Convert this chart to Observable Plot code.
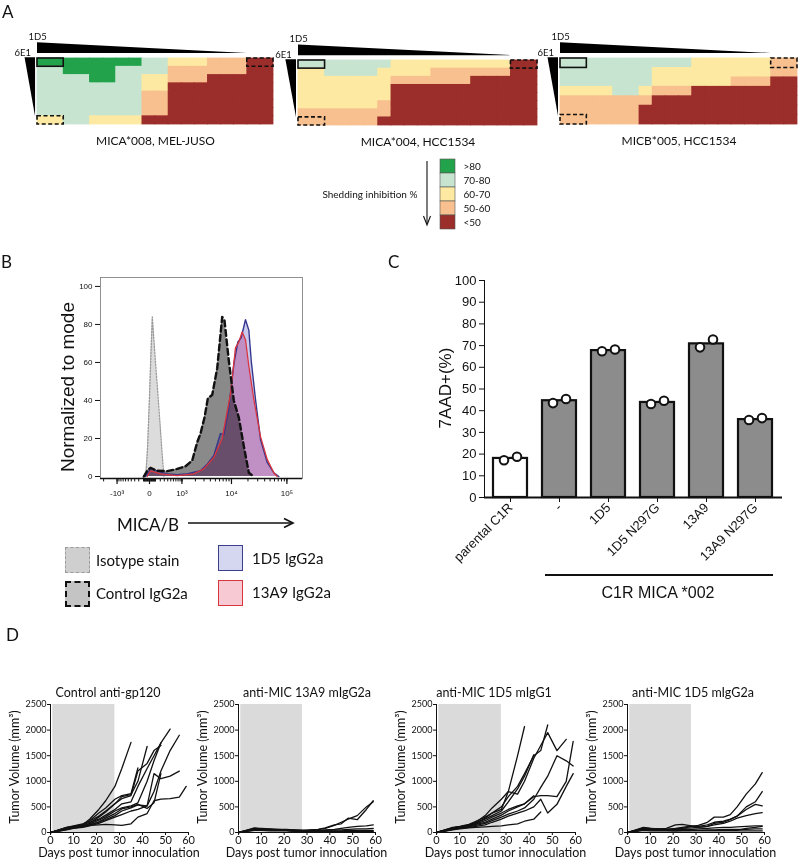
<!DOCTYPE html>
<html><head><meta charset="utf-8">
<script src="https://cdn.jsdelivr.net/npm/d3@7"></script>
<script src="https://cdn.jsdelivr.net/npm/@observablehq/plot@0.6"></script>
<style>
body{margin:0;background:#fff;}
#root{position:relative;width:800px;height:862px;overflow:hidden;color:#111;background:#fff;}
.abs{position:absolute;}
.lbl{position:absolute;white-space:nowrap;line-height:1;}
.sq{position:absolute;box-sizing:border-box;}
</style></head><body><div id="root"></div>
<script>
// ---------------- DATA ----------------
// Panel A: shedding inhibition heatmaps (rows = 6E1 dose, columns = 1D5 dose)
const shedCats = [">80", "70-80", "60-70", "50-60", "<50"];
const shedColors = ["#22a34b", "#c7e4d0", "#fde9a1", "#f8c08f", "#9b2d2a"];
const codeToCat = {G: ">80", L: "70-80", Y: "60-70", P: "50-60", R: "<50"};
const heat1Rows = [
  "GGGGGGGGLLYYYPPPRR",
  "LLGGGGLLLLPPPPPPRR",
  "LLLLGGLLYYPPPRRRRR",
  "LLLLLLLLYYRRRRRRRR",
  "LLLLLLLLPPRRRRRRRR",
  "LLLLLLLLPPRRRRRRRR",
  "LLLLLLLLPPRRRRRRRR",
  "YYLLYYYYRRRRRRRRRR"];
const heat2Rows = [
  "LLLLLLLYYYYYYYYYRR",
  "YYLLLLYYYYPPPPPPRR",
  "YYYYYYYPPPPPPRRRRR",
  "YYYYYYYRRRRRRRRRRR",
  "YYYYYYYRRRRRRRRRRR",
  "YYYYYYPRRRRRRRRRRR",
  "PPPPPPPRRRRRRRRRRR",
  "PPPPPPRRRRRRRRRRRR"];
const heat3Rows = [
  "LLLLLLLLLLYYYYYYPP",
  "LLLLLLLYYYYYYYYYPP",
  "LLLLLLLYYYYYYPPPRR",
  "YYYYLLYPPPRRRRRRRR",
  "PPPPPPPRRRRRRRRRRR",
  "PPPPPPRRRRRRRRRRRR",
  "PPPPPPRRRRRRRRRRRR"];
const heatTitles = ["MICA*008, MEL-JUSO", "MICA*004, HCC1534", "MICB*005, HCC1534"];

// Panel B: flow histograms (MFI, % of mode)
const isoMFI = [-60, -30, 0, 20, 44, 70, 100, 140, 190, 240, 290];
const isoCount = [0, 15, 42, 63, 84, 72, 60, 46, 29, 13, 0];
const ctrlMFI = [-95, -36, 15, 134, 383, 760, 1214, 1712, 2183, 2551, 3069, 3565, 4345, 5414, 6725, 7426, 8924, 11040, 13630, 16810, 20720, 25520];
const ctrlCount = [0, 3, 4.6, 3, 2.8, 4, 5.4, 8.4, 18, 22.6, 31, 41, 43, 57, 84, 82, 61, 40, 31, 16, 2, 0];
const d15MFI = [-64, 15, 134, 383, 760, 1321, 2551, 3472, 4659, 6249, 7204, 8924, 11040, 13070, 15070, 18040, 20720, 22890, 27360, 33670, 44430, 58320, 71710];
const d15Count = [0, 4, 2.8, 1.4, 1, 1.4, 3, 6.5, 11, 22.6, 22, 36, 59, 70.7, 73, 82.5, 77, 61, 40.6, 19.5, 7.4, 2, 0];
const a13MFI = [-36, 15, 205, 760, 1853, 2971, 4659, 6725, 9598, 11860, 13630, 15720, 18040, 20720, 25520, 33670, 44430, 58320, 67130];
const a13Count = [0, 3, 1.4, 0.5, 1.4, 4, 10, 20, 43.5, 67.7, 70.7, 76, 72, 58, 40.6, 21, 9, 2, 0];
const histTicks = [-1000, 0, 1000, 10000, 100000];
const histTickLabels = ["-10³", "0", "10³", "10⁴", "10⁵"];
const countTicks = [0, 20, 40, 60, 80, 100];
const histLegend = ["Isotype stain", "Control IgG2a", "1D5 IgG2a", "13A9 IgG2a"];

// Panel C: 7AAD+ (%)
const c1rGroups = ["parental C1R", "-", "1D5", "1D5 N297G", "13A9", "13A9 N297G"];
const barMeans = [18, 44.6, 67.7, 43.8, 70.8, 35.9];
const rep1 = [17.2, 43.5, 67.4, 43.1, 69.2, 35.7];
const rep2 = [18.8, 45.4, 68.2, 44.6, 72.8, 36.6];
const pctTicks = [0, 10, 20, 30, 40, 50, 60, 70, 80, 90, 100];

// Panel D: tumour growth (mm3) per mouse, on measurement days
const tumorDays = [0, 7, 10, 14, 17, 21, 24, 28, 31, 35, 38, 42, 45, 48, 52, 56, 59];
const dayTicks = [0, 10, 20, 30, 40, 50, 60];
const volTicks = [0, 500, 1000, 1500, 2000, 2500];
const treatWindow = [1, 28];
const growthTitles = ["Control anti-gp120", "anti-MIC 13A9 mIgG2a", "anti-MIC 1D5 mIgG1", "anti-MIC 1D5 mIgG2a"];
const controlMice = [
  [0, 80, 100, 150, 260, 450, 620, 900, 1250, 1760],
  [0, 90, 110, 160, 230, 380, 480, 650, 720, 760, 1260],
  [0, 70, 100, 130, 180, 300, 400, 560, 700, 740, 1000, 1680],
  [0, 100, 120, 150, 200, 260, 340, 450, 560, 600, 900, 1250, 1500, 1750, 2020],
  [0, 80, 110, 140, 170, 240, 310, 420, 480, 520, 580, 1000, 1400, 1750],
  [0, 60, 90, 110, 150, 200, 250, 330, 420, 480, 540, 520, 1150, 1050, 1100, 1200],
  [0, 60, 100, 120, 140, 150, 160, 150, 140, 170, 300, 370, 620, 650, 660, 690, 900],
  [0, 100, 130, 170, 220, 320, 420, 560, 660, 720, 1200, 1350, 1600, 1700],
  [0, 50, 80, 100, 130, 180, 230, 300, 350, 420, 450, 520, 800, 1200, 1600, 1900],
  [0, 70, 90, 110, 150, 210, 280, 370, 460, 500, 550, 470, 580, 1150]];
const mic13A9Mice = [
  [0, 80, 80, 70, 60, 60, 50, 40, 50, 60, 90, 150, 170, 280, 250, 450, 620],
  [0, 60, 50, 60, 50, 40, 40, 30, 40, 60, 80, 140, 200, 260, 330, 500, 600],
  [0, 90, 70, 60, 60, 50, 50, 40, 40, 40, 50, 60, 80, 100, 120, 130, 150],
  [0, 50, 60, 50, 50, 40, 40, 40, 30, 40, 40, 50, 50, 60, 70, 70, 80],
  [0, 70, 60, 50, 40, 40, 30, 30, 30, 30, 30, 30, 30, 40, 40, 40, 40],
  [0, 40, 40, 30, 30, 30, 20, 20, 20, 20, 20, 20, 20, 20, 20, 20, 20],
  [0, 60, 50, 50, 40, 40, 30, 30, 20, 20, 20, 20, 10, 10, 10, 10, 10]];
const mic1D5G1Mice = [
  [0, 90, 110, 150, 200, 330, 480, 650, 800, 1500, 2070],
  [0, 80, 100, 140, 180, 280, 380, 500, 700, 900, 1150, 1500, 1600, 2100],
  [0, 100, 120, 160, 220, 300, 380, 450, 800, 750, 1000, 1450, 1700, 1950, 1600, 1820],
  [0, 90, 110, 140, 190, 260, 330, 420, 600, 850, 1100, 1520],
  [0, 70, 100, 130, 170, 230, 300, 380, 450, 520, 560, 720],
  [0, 80, 100, 120, 160, 200, 260, 340, 420, 500, 560, 700, 720, 720, 700, 1000, 1780],
  [0, 60, 90, 110, 140, 180, 230, 300, 360, 420, 480, 650, 880, 1100, 1500, 1400, 1300],
  [0, 60, 80, 100, 120, 150, 200, 260, 320, 380, 420, 500, 650, 380, 550, 900, 1150],
  [0, 50, 70, 90, 100, 110, 120, 130, 150, 170, 220, 260, 400]];
const mic1D5G2aMice = [
  [0, 80, 70, 60, 50, 60, 80, 120, 140, 200, 300, 300, 350, 500, 750, 950, 1170],
  [0, 60, 60, 50, 60, 80, 100, 130, 100, 120, 180, 200, 250, 320, 500, 600, 800],
  [0, 90, 80, 70, 80, 150, 160, 130, 120, 150, 200, 220, 260, 320, 450, 550, 520],
  [0, 70, 60, 60, 60, 70, 80, 90, 100, 120, 150, 180, 220, 280, 330, 370, 390],
  [0, 50, 50, 50, 40, 50, 60, 60, 70, 80, 90, 100, 100, 110, 120, 130, 130],
  [0, 100, 80, 70, 60, 50, 50, 50, 40, 50, 50, 60, 60, 60, 60, 70, 70],
  [0, 60, 50, 40, 40, 30, 40, 40, 40, 40, 40, 40, 40, 40, 80, 100, 120],
  [0, 40, 30, 30, 30, 30, 30, 30, 30, 30, 30, 30, 30, 30, 30, 30, 30]];

// ---------------- HELPERS ----------------
const SANS = "Lato, 'Liberation Sans', sans-serif";
const HELV = "'Liberation Sans', Arial, sans-serif";
const root = document.getElementById("root");
function place(node, left, top) {
  const w = document.createElement("div");
  w.className = "abs"; w.style.left = left + "px"; w.style.top = top + "px";
  w.appendChild(node); root.appendChild(w); return w;
}
function label(s, x, y, o = {}) {
  const d = document.createElement("div");
  d.className = "lbl"; d.textContent = s;
  d.style.left = x + "px"; d.style.top = y + "px";
  d.style.fontSize = (o.size || 12) + "px";
  d.style.fontFamily = o.family || SANS;
  const a = o.anchor || "middle";
  const tx = a === "middle" ? "-50%" : a === "end" ? "-100%" : "0";
  d.style.transform = `translate(${tx},-50%)` + (o.rotate ? ` rotate(${o.rotate}deg)` : "");
  root.appendChild(d); return d;
}
function square(x, y, w, h, fill, border) {
  const d = document.createElement("div");
  d.className = "sq";
  Object.assign(d.style, {left: x + "px", top: y + "px", width: w + "px", height: h + "px", background: fill, border});
  root.appendChild(d);
}
const baseStyle = (fam, size) => ({background: "transparent", overflow: "visible", maxWidth: "none", fontFamily: fam, fontSize: size + "px", color: "#111"});

// ---------------- PANEL A ----------------
function heatmap(rows, title, x0, x1, y0, y1) {
  const n = rows.length, m = rows[0].length;
  const cells = [];
  rows.forEach((s, r) => [...s].forEach((c, j) => cells.push({j, r, cat: codeToCat[c]})));
  const top = 20, H = 135, ML = 40, MR = 4;
  const W = (x1 - x0) + ML + MR;
  const svg = Plot.plot({
    width: W, height: H, marginLeft: ML, marginRight: MR, marginTop: y0 - top, marginBottom: H - (y1 - top),
    style: baseStyle(SANS, 10),
    x: {domain: [0, m], axis: null},
    y: {domain: [0, 1], reverse: true, axis: null},
    color: {domain: shedCats, range: shedColors},
    marks: [
      Plot.rect(cells, {x1: d => d.j, x2: d => d.j + 1, y1: d => d.r / n, y2: d => (d.r + 1) / n, fill: "cat",
        insetLeft: -0.4, insetRight: -0.4, insetTop: -0.4, insetBottom: -0.4}),
      Plot.rect([{a: 0, b: 2, c: 0, d: 1 / n}], {x1: "a", x2: "b", y1: "c", y2: "d", fill: "none", stroke: "#111", strokeWidth: 1.6}),
      Plot.rect([{a: m - 2, b: m, c: 0, d: 1 / n}, {a: 0, b: 2, c: (n - 1) / n, d: 1}], {x1: "a", x2: "b", y1: "c", y2: "d", fill: "none", stroke: "#111", strokeWidth: 1.6, strokeDasharray: "4,2.5"}),
      Plot.areaY([{x: 0, lo: -0.075, hi: -0.24}, {x: 16, lo: -0.075, hi: -0.075}], {x: "x", y1: "lo", y2: "hi", fill: "black"}),
      Plot.areaX([{y: -0.01, a: -0.95, b: -0.15}, {y: 0.88, a: -0.15, b: -0.15}], {y: "y", x1: "a", x2: "b", fill: "black"}),
      Plot.text(["1D5"], {x: -0.68, y: -0.33, textAnchor: "start", fontSize: 9.5}),
      Plot.text(["6E1"], {x: -0.5, y: -0.085, textAnchor: "end", fontSize: 9.5}),
      Plot.text([title], {x: m / 2, y: 1, dy: 17, fontSize: 12})
    ]
  });
  place(svg, x0 - ML, top);
}
heatmap(heat1Rows, heatTitles[0], 37, 273, 58, 124);
heatmap(heat2Rows, heatTitles[1], 298, 537, 60, 125);
heatmap(heat3Rows, heatTitles[2], 560, 797, 58, 124);

const legendA = Plot.plot({
  width: 180, height: 90, marginLeft: 120, marginRight: 45, marginTop: 9, marginBottom: 11,
  style: baseStyle(SANS, 10),
  x: {axis: null}, y: {domain: shedCats, axis: null, padding: 0},
  color: {domain: shedCats, range: shedColors},
  marks: [
    Plot.cell(shedCats, {y: d => d, fill: d => d, stroke: "#555", strokeWidth: 0.6, inset: 0}),
    Plot.text(shedCats, {y: d => d, text: d => d, frameAnchor: "right", dx: 8, textAnchor: "start", fontSize: 10}),
    Plot.text(["Shedding inhibition %"], {frameAnchor: "left", dx: -23, textAnchor: "end", fontSize: 10})
  ]
});
place(legendA, 320, 150);

// ---------------- PANEL B ----------------
const toRows = (xs, ys) => xs.map((x, i) => ({x, y: ys[i]}));
const iso = toRows(isoMFI, isoCount), ctrl = toRows(ctrlMFI, ctrlCount);
const d15 = toRows(d15MFI, d15Count), a13 = toRows(a13MFI, a13Count);
const minorTicks = [];
for (const dec of [10, 100]) for (let k = 1; k < 10; k++) minorTicks.push(-k * dec);
for (const dec of [10, 100, 1000, 10000]) for (let k = 1; k < 10; k++) minorTicks.push(k * dec);
minorTicks.push(-2000, -1000, 0, 1000, 10000, 100000);
const yMinB = -1.05;
const histo = Plot.plot({
  width: 280, height: 250, marginLeft: 60, marginRight: 18, marginTop: 12, marginBottom: 37,
  style: baseStyle(HELV, 8),
  x: {type: "symlog", constant: 360, domain: [-2322, 189900], ticks: histTicks,
      tickFormat: d => histTickLabels[histTicks.indexOf(d)], tickSize: 0, tickPadding: 12, label: null},
  y: {domain: [yMinB, 104.7], ticks: countTicks, tickSize: 5, tickPadding: 3, label: null},
  marks: [
    Plot.frame({stroke: "#777", strokeWidth: 0.8}),
    Plot.areaY(iso, {x: "x", y: "y", fill: "#dcdcdc"}),
    Plot.line(iso, {x: "x", y: "y", stroke: "#9a9a9a", strokeWidth: 1.3, strokeDasharray: "1.5,1.5"}),
    Plot.areaY(ctrl, {x: "x", y: "y", fill: "#8a8a8a"}),
    Plot.areaY(d15, {x: "x", y: "y", fill: "#c9c9ee", mixBlendMode: "multiply"}),
    Plot.areaY(a13, {x: "x", y: "y", fill: "#f4b6d2", mixBlendMode: "multiply"}),
    Plot.line(d15, {x: "x", y: "y", stroke: "#34378c", strokeWidth: 1.4}),
    Plot.line(a13, {x: "x", y: "y", stroke: "#d8343f", strokeWidth: 1.3}),
    Plot.line(ctrl, {x: "x", y: "y", stroke: "#111", strokeWidth: 2.4, strokeDasharray: "6,3.5"}),
    Plot.ruleY([yMinB], {stroke: "#111", strokeWidth: 1.5}),
    Plot.ruleX(minorTicks, {y1: yMinB, y2: yMinB - 1.8, stroke: "#111", strokeWidth: 1}),
    Plot.ruleX(histTicks, {y1: yMinB, y2: yMinB - 3.2, stroke: "#111", strokeWidth: 1.2})
  ]
});
place(histo, 40, 265);
label("Normalized to mode", 67, 387, {size: 19, family: HELV, rotate: -90});
label("MICA/B", 117, 524, {size: 17, anchor: "start"});
square(65, 547, 25, 26, "#cfcfcf", "1.5px dashed #9a9a9a");
square(65, 581, 25, 26, "#c4c4c4", "2px dashed #111");
square(218, 545, 25, 26, "#d5d6ef", "1.5px solid #3b3f8c");
square(218, 580, 25, 26, "#f7cad3", "1.5px solid #d8343c");
label(histLegend[0], 96, 560, {size: 15, anchor: "start"});
label(histLegend[1], 96, 593, {size: 15, anchor: "start"});
label(histLegend[2], 252, 558, {size: 15, anchor: "start"});
label(histLegend[3], 252, 592, {size: 15, anchor: "start"});

// ---------------- PANEL C ----------------
const c1rTable = c1rGroups.map((g, i) => ({g, mean: barMeans[i], r1: rep1[i], r2: rep2[i], parental: i === 0}));
const barC = Plot.plot({
  width: 410, height: 310, marginLeft: 104, marginRight: 8, marginTop: 10, marginBottom: 83,
  style: baseStyle(HELV, 13),
  x: {domain: c1rGroups, paddingInner: 0.3, paddingOuter: 0.15, tickRotate: -45, tickSize: 5, tickPadding: 3, label: null},
  y: {domain: [0, 100], ticks: pctTicks, tickSize: 5, tickPadding: 3, label: null, line: true},
  marks: [
    Plot.barY(c1rTable, {filter: d => d.parental, x: "g", y: "mean", fill: "white", stroke: "#111", strokeWidth: 2.2}),
    Plot.barY(c1rTable, {filter: d => !d.parental, x: "g", y: "mean", fill: "#8c8c8c", stroke: "#111", strokeWidth: 2.2}),
    Plot.ruleY([0], {stroke: "#111", strokeWidth: 2}),
    Plot.dot(c1rTable, {x: "g", y: "r1", dx: -6.5, r: 4.3, stroke: "#111", strokeWidth: 2, fill: "white"}),
    Plot.dot(c1rTable, {x: "g", y: "r2", dx: 6.5, r: 4.3, stroke: "#111", strokeWidth: 2, fill: "white"})
  ]
});
place(barC, 380, 270);
label("7AAD+(%)", 445, 388, {size: 17, family: HELV, rotate: -90});
label("C1R MICA *002", 658, 593, {size: 16, family: HELV});

// ---------------- PANEL D ----------------
function growth(mice, title, ax, w, titleX) {
  const rows = mice.flatMap((vals, m) => vals.map((v, i) => ({mouse: m, day: tumorDays[i], vol: v})));
  const ML = 45, MR = 12, top = 695, H = 155;
  const svg = Plot.plot({
    width: w + ML + MR, height: H, marginLeft: ML, marginRight: MR, marginTop: 704 - top, marginBottom: H - (832 - top),
    style: baseStyle(SANS, 11),
    x: {domain: [0, 60], ticks: dayTicks, tickSize: 3, tickPadding: 1, label: null, line: true},
    y: {domain: [0, 2500], ticks: volTicks, tickFormat: d => String(d), tickSize: 3, tickPadding: 1, label: null, line: true},
    marks: [
      Plot.rect([treatWindow], {x1: d => d[0], x2: d => d[1], y1: 0, y2: 2500, fill: "#dadada"}),
      Plot.line(rows, {x: "day", y: "vol", z: "mouse", stroke: "#111", strokeWidth: 1.3})
    ]
  });
  svg.querySelectorAll('[aria-label^="y-axis"] text').forEach(t => t.style.fontSize = "9px");
  place(svg, ax - ML, top);
  label(title, titleX, 693, {size: 12.5});
  label("Days post tumor innoculation", ax + w / 2, 853, {size: 12.5});
  label("Tumor Volume (mm³)", ax - 35, 767, {size: 12.5, rotate: -90});
}
growth(controlMice, growthTitles[0], 50, 138, 108);
growth(mic13A9Mice, growthTitles[1], 238, 137, 307);
growth(mic1D5G1Mice, growthTitles[2], 436, 139, 494);
growth(mic1D5G2aMice, growthTitles[3], 627, 137, 693);

// ---------------- PANEL LETTERS + DECORATION ----------------
label("A", 2, 11, {size: 17, anchor: "start"});
label("B", 1, 261, {size: 17, anchor: "start"});
label("C", 388, 261, {size: 17, anchor: "start"});
label("D", 6, 634, {size: 17, anchor: "start"});
const ns = "http://www.w3.org/2000/svg";
const deco = document.createElementNS(ns, "svg");
deco.setAttribute("width", 800); deco.setAttribute("height", 862);
deco.style.cssText = "position:absolute;left:0;top:0;pointer-events:none;";
deco.innerHTML = `
  <g stroke="#111" fill="none">
    <line x1="188" y1="523" x2="292" y2="523" stroke-width="1.6"/>
    <polyline points="284,518.5 293,523 284,527.5" stroke-width="1.6"/>
    <line x1="427" y1="161" x2="427" y2="224" stroke-width="1.1"/>
    <polyline points="423.5,216 427,225 430.5,216" stroke-width="1.1"/>
    <line x1="545" y1="575" x2="773" y2="575" stroke-width="2"/>
  </g>`;
root.appendChild(deco);
</script></body></html>
